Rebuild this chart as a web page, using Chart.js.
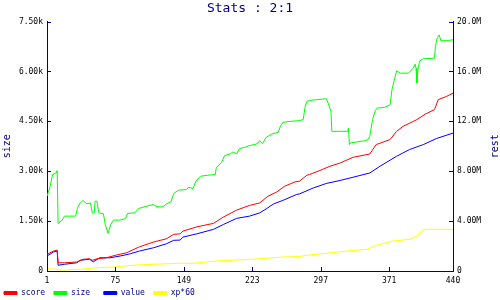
<!DOCTYPE html>
<html lang="en">

<head>
    <meta charset="UTF-8">
    <title>Stats : 2:1</title>
    <style>
        html, body { margin: 0; padding: 0; background: #fff; }
    </style>
</head>

<body>
    <div style="width: 500px; height: 300px;">
        <canvas id="myChart" width="500" height="300"></canvas>
    </div>

    <script src="https://cdn.jsdelivr.net/npm/chart.js@4.4.1/dist/chart.umd.min.js"></script>
    <script>
        // x ticks and axis labels
        const xTicks = [1, 75, 149, 223, 297, 371, 440];
        const sizeTicks = [0, 1500, 3000, 4500, 6000, 7500];
        const sizeTickLabels = ['0', '1.50k', '3.00k', '4.50k', '6.00k', '7.50k'];
        const restTicks = [0, 4e6, 8e6, 12e6, 16e6, 20e6];
        const restTickLabels = ['0', '4.00M', '8.00M', '12.0M', '16.0M', '20.0M'];

        // size (left axis)
        const sizeX = [1, 4, 7, 11, 12, 13, 17, 20, 32, 34, 37, 40, 44, 48, 50, 52, 53, 55, 57, 62, 64, 67, 70, 73, 80, 86, 88, 96, 100, 109, 116, 120, 127, 130, 135, 138, 143, 152, 154, 159, 162, 167, 175, 183, 184, 190, 193, 199, 202, 206, 209, 215, 220, 228, 231, 234, 238, 244, 251, 253, 256, 264, 273, 278, 280, 282, 285, 292, 303, 305, 308, 309, 318, 326, 327, 328, 329, 336, 345, 348, 350, 353, 356, 358, 366, 372, 374, 377, 379, 383, 392, 397, 399, 400, 401, 402, 404, 408, 420, 421, 423, 425, 427, 433, 440];
        const sizeY = [2250, 2500, 2900, 2950, 3020, 1430, 1520, 1650, 1650, 1900, 2050, 2120, 2020, 2050, 1750, 1750, 2100, 2100, 1750, 1720, 1400, 1130, 1400, 1530, 1530, 1580, 1730, 1750, 1880, 1950, 2000, 1930, 1930, 2020, 2080, 2330, 2430, 2450, 2520, 2480, 2700, 2850, 2880, 2900, 3100, 3270, 3470, 3520, 3580, 3520, 3680, 3720, 3770, 3820, 3920, 3830, 4020, 4120, 4170, 4330, 4470, 4500, 4520, 4550, 4920, 5100, 5130, 5150, 5180, 5050, 4800, 4200, 4200, 4200, 4300, 3800, 3850, 3880, 3920, 3950, 4050, 4550, 4820, 4900, 4920, 5000, 5450, 5800, 6020, 5950, 5950, 6100, 6220, 6100, 5650, 6050, 6320, 6380, 6400, 6750, 7020, 7100, 6920, 6930, 6950];

        // score (right axis, millions)
        const scoreX = [1, 8, 12, 13, 20, 33, 40, 47, 50, 55, 65, 76, 87, 101, 116, 130, 138, 145, 148, 163, 181, 192, 206, 220, 231, 240, 249, 258, 269, 274, 282, 285, 296, 307, 318, 332, 350, 357, 372, 379, 386, 401, 410, 420, 424, 433, 440];
        const scoreY = [1.34, 1.6, 1.68, 0.66, 0.66, 0.72, 0.94, 0.98, 0.86, 0.98, 1.06, 1.28, 1.46, 1.94, 2.32, 2.58, 2.94, 2.98, 3.2, 3.54, 3.82, 4.34, 4.88, 5.26, 5.46, 6.0, 6.32, 6.8, 7.14, 7.2, 7.68, 7.74, 8.06, 8.4, 8.66, 9.12, 9.38, 10.14, 10.54, 11.2, 11.6, 12.14, 12.58, 12.94, 13.74, 14.0, 14.26];

        // value (right axis, millions)
        const valueX = [1, 8, 12, 13, 20, 33, 37, 47, 51, 58, 69, 80, 91, 101, 116, 130, 138, 145, 148, 163, 181, 192, 206, 220, 231, 238, 246, 256, 271, 274, 289, 303, 318, 332, 350, 361, 379, 393, 408, 422, 440];
        const valueY = [1.2, 1.52, 1.6, 0.46, 0.54, 0.66, 0.86, 0.94, 0.74, 1.06, 1.06, 1.2, 1.38, 1.6, 1.86, 2.18, 2.46, 2.48, 2.72, 2.98, 3.34, 3.74, 4.22, 4.4, 4.66, 4.98, 5.38, 5.66, 6.14, 6.18, 6.66, 7.02, 7.26, 7.52, 7.86, 8.4, 9.2, 9.74, 10.14, 10.62, 11.06];

        // xp*60 (right axis, millions)
        const xpX = [1, 11, 15, 37, 55, 76, 94, 116, 145, 159, 184, 206, 231, 256, 274, 282, 303, 325, 347, 357, 375, 393, 401, 408, 440];
        const xpY = [0.18, 0.14, 0.06, 0.14, 0.26, 0.34, 0.46, 0.54, 0.62, 0.62, 0.8, 0.88, 0.98, 1.12, 1.16, 1.26, 1.42, 1.6, 1.74, 2.06, 2.4, 2.54, 2.8, 3.34, 3.34];

        const navy = '#000080';
        const mono = 'DejaVu Sans Mono';

        function pts(xs, ys, mult) {
            return xs.map((x, i) => ({ x: x, y: ys[i] * mult }));
        }

        // small inward tick marks + right axis title
        const axisDeco = {
            id: 'axisDeco',
            afterDraw(chart) {
                const c = chart.ctx;
                const a = chart.chartArea;
                const sx = chart.scales.x, sl = chart.scales.ySize, sr = chart.scales.yRest;
                c.save();
                c.strokeStyle = navy;
                c.lineWidth = 1;
                c.beginPath();
                sizeTicks.forEach(v => {
                    const y = Math.round(sl.getPixelForValue(v)) + 0.5;
                    c.moveTo(a.left, y); c.lineTo(a.left + 4, y);
                });
                restTicks.forEach(v => {
                    const y = Math.round(sr.getPixelForValue(v)) + 0.5;
                    c.moveTo(a.right, y); c.lineTo(a.right - 4, y);
                });
                xTicks.forEach(v => {
                    const x = Math.round(sx.getPixelForValue(v)) + 0.5;
                    c.moveTo(x, a.bottom); c.lineTo(x, a.bottom - 4);
                });
                c.stroke();
                c.fillStyle = navy;
                c.font = '10px "' + mono + '"';
                c.textAlign = 'center';
                c.textBaseline = 'middle';
                c.translate(495, (a.top + a.bottom) / 2);
                c.rotate(-Math.PI / 2);
                c.fillText('rest', 0, 0);
                c.restore();
            }
        };

        const ctx = document.getElementById('myChart');
        const config = {
            type: 'line',
            data: {
                datasets: [
                    { label: 'score ', data: pts(scoreX, scoreY, 1e6), borderColor: '#ff0000', backgroundColor: '#ff0000', yAxisID: 'yRest' },
                    { label: 'size  ', data: pts(sizeX, sizeY, 1), borderColor: '#00ff00', backgroundColor: '#00ff00', yAxisID: 'ySize' },
                    { label: 'value ', data: pts(valueX, valueY, 1e6), borderColor: '#0000ff', backgroundColor: '#0000ff', yAxisID: 'yRest' },
                    { label: 'xp*60 ', data: pts(xpX, xpY, 1e6), borderColor: '#ffff00', backgroundColor: '#ffff00', yAxisID: 'yRest' }
                ]
            },
            options: {
                responsive: false,
                animation: false,
                elements: {
                    point: { radius: 0 },
                    line: { borderWidth: 1, tension: 0 }
                },
                layout: { padding: { left: 0, right: 0, top: 0, bottom: -7 } },
                scales: {
                    x: {
                        type: 'linear',
                        min: 1,
                        max: 440,
                        afterBuildTicks: s => { s.ticks = xTicks.map(v => ({ value: v })); },
                        afterFit: s => { s.height = 14; },
                        grid: { drawOnChartArea: false, drawTicks: false },
                        border: { color: navy, width: 1 },
                        ticks: { color: '#000', font: { family: mono, size: 8 }, padding: 5, maxRotation: 0 }
                    },
                    ySize: {
                        type: 'linear',
                        position: 'left',
                        min: 0,
                        max: 7500,
                        afterBuildTicks: s => { s.ticks = sizeTicks.map(v => ({ value: v })); },
                        afterFit: s => { s.width = 47; },
                        grid: { drawOnChartArea: false, drawTicks: false },
                        border: { color: navy, width: 1 },
                        title: { display: true, text: 'size', color: navy, font: { family: mono, size: 10 }, padding: { top: 1, bottom: 0 } },
                        ticks: {
                            color: '#000', font: { family: mono, size: 8 }, padding: 4,
                            callback: v => sizeTickLabels[sizeTicks.indexOf(v)]
                        }
                    },
                    yRest: {
                        type: 'linear',
                        position: 'right',
                        min: 0,
                        max: 20e6,
                        afterBuildTicks: s => { s.ticks = restTicks.map(v => ({ value: v })); },
                        afterFit: s => { s.width = 47; },
                        grid: { drawOnChartArea: false, drawTicks: false },
                        border: { color: navy, width: 1 },
                        ticks: {
                            color: '#000', font: { family: mono, size: 8 }, padding: 4,
                            callback: v => restTickLabels[restTicks.indexOf(v)]
                        }
                    }
                },
                plugins: {
                    title: {
                        display: true,
                        text: 'Stats : 2:1',
                        color: navy,
                        font: { family: mono, size: 13, weight: 'normal' },
                        padding: { top: 1, bottom: 5 }
                    },
                    legend: {
                        position: 'bottom',
                        align: 'start',
                        labels: {
                            color: navy,
                            font: { family: mono, size: 8 },
                            boxWidth: 13,
                            boxHeight: 3,
                            padding: 4
                        }
                    },
                    tooltip: { enabled: false }
                }
            },
            plugins: [axisDeco]
        };
        var chart = new Chart(ctx, config);
    </script>

</body>

</html>
